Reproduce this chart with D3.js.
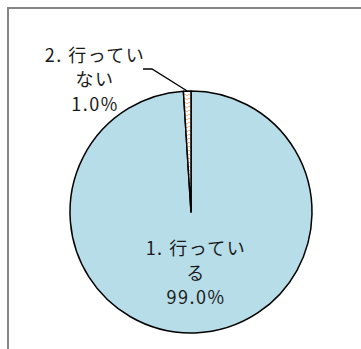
<!DOCTYPE html>
<html>
<head>
<meta charset="utf-8">
<script src="https://cdn.jsdelivr.net/npm/d3@7"></script>
<style>
  body { margin: 0; background: #fff; }
  text { font-family: "Noto Sans CJK JP", sans-serif; fill: #1a1a1a; letter-spacing: 1.5px; }
</style>
</head>
<body>
<div id="chart"></div>
<script>
// data
var categories = ["1.行っている", "2.行っていない"];
var values = [99.0, 1.0];
var labelLines = [["1. 行ってい", "る", "99.0%"], ["2. 行ってい", "ない", "1.0%"]];
var colors = ["#b7dde8", "#ffffff"];

var svgWidth = 361;
var svgHeight = 349;

var svg = d3.select("#chart")
  .append("svg")
  .attr("width", svgWidth)
  .attr("height", svgHeight);

// dotted pattern for the small slice
var defs = svg.append("defs");
var pat = defs.append("pattern")
  .attr("id", "dots")
  .attr("width", 4)
  .attr("height", 4)
  .attr("patternUnits", "userSpaceOnUse");
pat.append("rect").attr("width", 4).attr("height", 4).attr("fill", "#fff");
pat.append("path")
  .attr("d", "M0,4 L2,2 L4,4")
  .attr("stroke", "#f4b183")
  .attr("stroke-width", 1)
  .attr("fill", "none");

// frame (only top and left show)
svg.append("path")
  .attr("d", "M8,349 L8,8 L361,8")
  .attr("fill", "none")
  .attr("stroke", "#858585")
  .attr("stroke-width", 2);

var cx = 191, cy = 212, radius = 121;

var g = svg.append("g")
  .attr("transform", `translate(${cx}, ${cy})`);

var pie = d3.pie()
  .sort(null)
  .startAngle(0)
  .endAngle(2 * Math.PI)
  .value(d => d);

var arcs = pie(values);

var arc = d3.arc()
  .innerRadius(0)
  .outerRadius(radius);

g.selectAll("path.slice")
  .data(arcs)
  .enter()
  .append("path")
  .attr("class", "slice")
  .attr("d", arc)
  .attr("fill", (d, i) => i === 1 ? "url(#dots)" : colors[i])
  .attr("stroke", "#000")
  .attr("stroke-width", 1.5)
  .attr("stroke-linejoin", "round");

var lineH = 24.5;

// inner label for the big slice
var labelArc = d3.arc().innerRadius(0).outerRadius(radius * 1.02);
var c0 = labelArc.centroid(arcs[0]);
g.append("text")
  .attr("text-anchor", "middle")
  .attr("font-size", "18px")
  .selectAll("tspan")
  .data(labelLines[0])
  .enter()
  .append("tspan")
  .attr("x", c0[0] + 3)
  .attr("y", (d, i) => c0[1] + (i - 1) * lineH)
  .attr("dy", "0.35em")
  .text(d => d);

// leader line for the small slice
var a1 = (arcs[1].startAngle + arcs[1].endAngle) / 2;
var p0 = [radius * Math.sin(a1), -radius * Math.cos(a1)];
var p1 = [-39, -143];
var p2 = [-48, -143];
g.append("polyline")
  .attr("points", [p0, p1, p2].map(p => p.join(",")).join(" "))
  .attr("fill", "none")
  .attr("stroke", "#000")
  .attr("stroke-width", 1.3);

g.append("text")
  .attr("text-anchor", "middle")
  .attr("font-size", "18px")
  .selectAll("tspan")
  .data(labelLines[1])
  .enter()
  .append("tspan")
  .attr("x", p2[0] - 48)
  .attr("y", (d, i) => p1[1] + 11 + (i - 1) * lineH)
  .attr("dy", "0.35em")
  .text(d => d);
</script>
</body>
</html>
